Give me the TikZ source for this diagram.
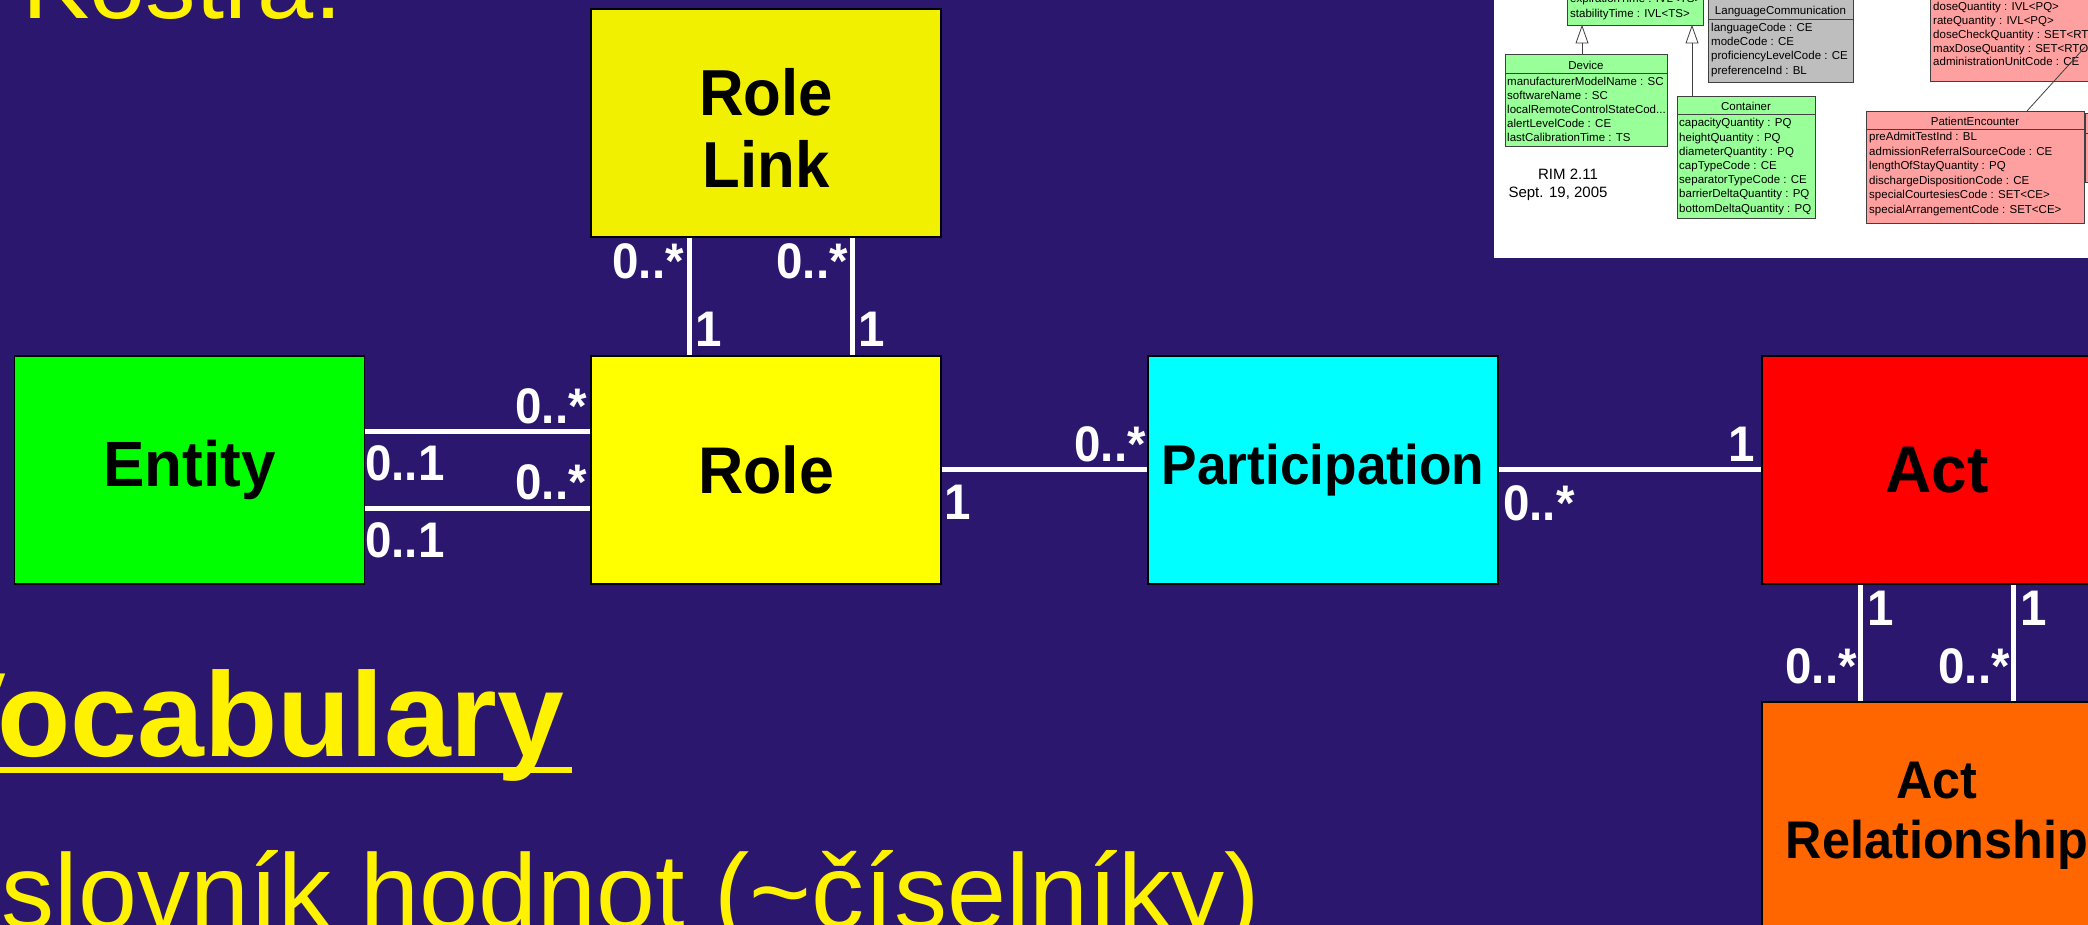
\documentclass[tikz,border=0pt]{standalone}
\usepackage{fontspec}
\setmainfont{Liberation Sans}
\usepackage{graphicx}
\definecolor{bg}{RGB}{43,24,110}
\definecolor{entg}{RGB}{0,255,0}
\definecolor{roley}{RGB}{255,255,0}
\definecolor{linky}{RGB}{240,240,0}
\definecolor{partc}{RGB}{0,255,255}
\definecolor{actr}{RGB}{255,0,0}
\definecolor{arelo}{RGB}{255,102,0}
\definecolor{umlg}{RGB}{153,255,153}
\definecolor{umlgray}{RGB}{190,190,190}
\definecolor{umlp}{RGB}{255,160,160}
\newcommand\boxfont{\bfseries\fontsize{64}{73}\selectfont}
\newcommand\labfont{\bfseries\fontsize{50}{56}\selectfont}
\newcommand\umlfont{\fontsize{11.5}{13}\selectfont}
\newcommand\nx[1]{\scalebox{0.95}[1]{#1}}
\begin{document}
\begin{tikzpicture}[x=1pt,y=-1pt,
  bigbox/.style={draw=black,line width=1.5pt,inner sep=0pt,minimum width=350pt,minimum height=228pt,font=\boxfont,text=black,align=center},
  lab/.style={text=white,font=\labfont,inner sep=0pt},
  conn/.style={draw=white,line width=5pt},
  umlbox/.style={draw=black!75,line width=0.8pt,inner sep=0pt,anchor=north west},
  umlt/.style={font=\umlfont,inner sep=0pt,anchor=base west,text=black},
  umlh/.style={font=\umlfont,inner sep=0pt,anchor=base,text=black},
  umll/.style={draw=black!75,line width=0.8pt}]
\useasboundingbox (0,0) rectangle (2088,925);
\clip (0,0) rectangle (2088,925);
\fill[bg] (0,0) rectangle (2088,925);

% titles
\node[inner sep=0pt,anchor=base west,text=yellow,font=\fontsize{101}{105}\selectfont] (kostra) at (22,19) {Kostra:};
\node[inner sep=0pt,anchor=base west,text=yellow,font=\bfseries\fontsize{120}{125}\selectfont] (vocab) at (-74,756) {Vocabulary};
\fill[yellow] (-10,767) rectangle (572,773);
\node[inner sep=0pt,anchor=base west,text=yellow,font=\fontsize{106}{110}\selectfont] (slov) at (1.5,928) {slovník hodnot (\char"007E číselníky)};

% main boxes
\node[bigbox,fill=linky,label={[name=rltext,inner sep=0pt,align=center,font=\bfseries\fontsize{65}{72}\selectfont,text=black,yshift=-5pt]center:\nx{Role}\\\nx{Link}}] (rolelink) at (766,123) {};
\node[bigbox,fill=entg] (entity) at (189.5,470) {\scalebox{0.97}[1]{Entity}};
\node[bigbox,fill=roley,font=\bfseries\fontsize{66}{73}\selectfont] (role) at (766,470) {\nx{Role}};
\node[bigbox,fill=partc,font=\bfseries\fontsize{56}{62}\selectfont] (part) at (1323,470) {\nx{Participation}};
\node[bigbox,fill=actr,font=\bfseries\fontsize{66}{73}\selectfont] (act) at (1937,470) {\scalebox{0.97}[1]{Act}};
\node[bigbox,fill=arelo,font=\bfseries\fontsize{53}{60}\selectfont] (arel) at (1937,816) {\nx{Act}\\\nx{Relationship}};

% connectors
\draw[conn] (entity.east |- 0,431) -- (role.west |- 0,431);
\draw[conn] (entity.east |- 0,508) -- (role.west |- 0,508);
\draw[conn] (rolelink.south -| 689,0) -- (role.north -| 689,0);
\draw[conn] (rolelink.south -| 852,0) -- (role.north -| 852,0);
\draw[conn] (role.east |- 0,469.5) -- (part.west |- 0,469.5);
\draw[conn] (part.east |- 0,469.5) -- (act.west |- 0,469.5);
\draw[conn] (act.south -| 1860,0) -- (arel.north -| 1860,0);
\draw[conn] (act.south -| 2013,0) -- (arel.north -| 2013,0);

% multiplicities
\node[lab,anchor=base east] (m1) at (684,279) {\nx{0..*}};
\node[lab,anchor=base west] (m2) at (695,346) {\nx{1}};
\node[lab,anchor=base east] (m3) at (848,279) {\nx{0..*}};
\node[lab,anchor=base west] (m4) at (858,346) {\nx{1}};
\node[lab,anchor=base east] (m5) at (587,423) {\nx{0..*}};
\node[lab,anchor=base west] (m6) at (365,480) {\nx{0..1}};
\node[lab,anchor=base east] (m7) at (587,499) {\nx{0..*}};
\node[lab,anchor=base west] (m8) at (365,557) {\nx{0..1}};
\node[lab,anchor=base west] (m9) at (944,519) {\nx{1}};
\node[lab,anchor=base east] (m10) at (1146,461) {\nx{0..*}};
\node[lab,anchor=base west] (m11) at (1503,520) {\nx{0..*}};
\node[lab,anchor=base east] (m12) at (1755,461) {\nx{1}};
\node[lab,anchor=base west] (m13) at (1867,625) {\nx{1}};
\node[lab,anchor=base west] (m14) at (2020,625) {\nx{1}};
\node[lab,anchor=base east] (m15) at (1857,683) {\nx{0..*}};
\node[lab,anchor=base east] (m16) at (2010,683) {\nx{0..*}};

% inset RIM picture
\fill[white] (1494,0) rectangle (2088,258);
\node[umlbox,fill=umlg,minimum width=136pt,minimum height=30pt] (gtop) at (1567,-5) {};
\node[umlt] at (1570,3) {expirationTime : IVL<TS>};
\node[umlt] at (1570,18) {stabilityTime : IVL<TS>};

\node[umlbox,fill=umlgray,minimum width=145pt,minimum height=84pt] (lang) at (1708,-2) {};
\draw[umll] (1708,19) -- (1853,19);
\node[umlh] at (1780.5,15) {LanguageCommunication};
\node[umlt] at (1711,32) {languageCode : CE};
\node[umlt] at (1711,46) {modeCode : CE};
\node[umlt] at (1711,60) {proficiencyLevelCode : CE};
\node[umlt] at (1711,75) {preferenceInd : BL};

\node[umlbox,fill=umlg,minimum width=162pt,minimum height=92pt] (device) at (1505,54) {};
\draw[umll] (1505,73) -- (1667,73);
\node[umlh] at (1586,70) {Device};
\node[umlt] at (1507,86) {manufacturerModelName : SC};
\node[umlt] at (1507,100) {softwareName : SC};
\node[umlt] at (1507,114) {localRemoteControlStateCod...};
\node[umlt] at (1507,128) {alertLevelCode : CE};
\node[umlt] at (1507,142) {lastCalibrationTime : TS};

\node[umlbox,fill=umlg,minimum width=138pt,minimum height=122pt] (cont) at (1677,96) {};
\draw[umll] (1677,114) -- (1815,114);
\node[umlh] at (1746,111) {Container};
\node[umlt] at (1679,127) {capacityQuantity : PQ};
\node[umlt] at (1679,141.2) {heightQuantity : PQ};
\node[umlt] at (1679,155.4) {diameterQuantity : PQ};
\node[umlt] at (1679,169.6) {capTypeCode : CE};
\node[umlt] at (1679,183.8) {separatorTypeCode : CE};
\node[umlt] at (1679,198) {barrierDeltaQuantity : PQ};
\node[umlt] at (1679,212.2) {bottomDeltaQuantity : PQ};

\draw[umll,fill=white] (1582,26) -- (1576,43) -- (1588,43) -- cycle;
\draw[umll] (1582,43) -- (device.north -| 1582,0);
\draw[umll,fill=white] (1692,26) -- (1686,43) -- (1698,43) -- cycle;
\draw[umll] (1692,43) -- (cont.north -| 1692,0);

\node[inner sep=0pt,anchor=base,font=\fontsize{15}{17}\selectfont,text=black] (rim) at (1568,180) {RIM 2.11};
\node[inner sep=0pt,anchor=base,font=\fontsize{15}{17}\selectfont,text=black] (date) at (1558,198) {Sept. 19, 2005};

\node[umlbox,fill=umlp,minimum width=170pt,minimum height=86pt] (ptop) at (1930,-5) {};
\node[umlt] at (1933,11) {doseQuantity : IVL<PQ>};
\node[umlt] at (1933,25) {rateQuantity : IVL<PQ>};
\node[umlt] at (1933,38.5) {doseCheckQuantity : SET<RTO>};
\node[umlt] at (1933,52.5) {maxDoseQuantity : SET<RTO>};
\node[umlt] at (1933,66) {administrationUnitCode : CE};

\node[umlbox,fill=umlp,minimum width=218pt,minimum height=112pt] (penc) at (1866,111) {};
\draw[umll] (1866,129) -- (2084,129);
\node[umlh] at (1975,126) {PatientEncounter};
\node[umlt] at (1869,141) {preAdmitTestInd : BL};
\node[umlt] at (1869,155.5) {admissionReferralSourceCode : CE};
\node[umlt] at (1869,170) {lengthOfStayQuantity : PQ};
\node[umlt] at (1869,184.5) {dischargeDispositionCode : CE};
\node[umlt] at (1869,199) {specialCourtesiesCode : SET<CE>};
\node[umlt] at (1869,213.5) {specialArrangementCode : SET<CE>};
\draw[umll] (penc.north -| 2027,0) -- (2085,47);

\node[umlbox,fill=umlp,minimum width=20pt,minimum height=69pt] (sliver) at (2085,113) {};
\draw[umll] (2085,133) -- (2105,133);
\end{tikzpicture}
\end{document}
